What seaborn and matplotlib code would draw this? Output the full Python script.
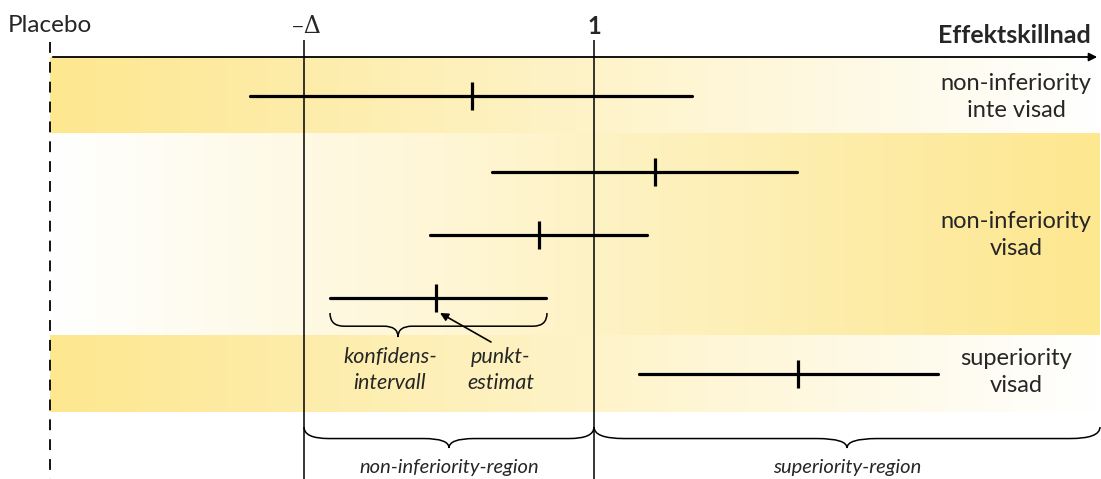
import numpy as np
import pandas as pd
import matplotlib
matplotlib.use('Agg')
import matplotlib.pyplot as plt
import seaborn as sns
from matplotlib.path import Path
from matplotlib.patches import PathPatch
from matplotlib.colors import LinearSegmentedColormap

# Style
sns.set_theme(style='white')
plt.rcParams['font.family'] = ['Lato', 'DejaVu Sans']

# Data (positions on the effect scale, in chart units)
placebo_x = 50
delta_x = 304
one_x = 594
axis_end = 1100

row_y = [96, 172, 235, 298, 374]
ci_low = [250, 492, 430, 330, 639]
ci_high = [692, 797, 647, 546, 938]
point_est = [472, 655, 539, 436, 798]

band_edges = [57, 133, 335, 412]
band_dir = ['left', 'right', 'left']
band_labels = ['non-inferiority\ninte visad', 'non-inferiority\nvisad', 'superiority\nvisad']
band_label_y = [97, 235, 372]

region_labels = ['non-inferiority-region', 'superiority-region']

yellow = '#fde78f'
cmap = LinearSegmentedColormap.from_list('fade', ['#ffffff', yellow])

fig = plt.figure(figsize=(11.01, 4.79), dpi=100)
ax = fig.add_axes([0, 0, 1, 1])
ax.set_xlim(0, 1101)
ax.set_ylim(479, 0)
ax.axis('off')

# Gradient bands
grad = np.linspace(0, 1, 256).reshape(1, -1)
for i, d in enumerate(band_dir):
    g = grad[:, ::-1] if d == 'left' else grad
    ax.imshow(g, cmap=cmap, aspect='auto', vmin=0, vmax=1,
              extent=[placebo_x, axis_end, band_edges[i + 1], band_edges[i]], zorder=0)
    ax.text(1016, band_label_y[i], band_labels[i], ha='center', va='center',
            fontsize=17, linespacing=1.4, zorder=5)

# Axis arrow
ax.annotate('', xy=(axis_end, band_edges[0]), xytext=(placebo_x, band_edges[0]),
            arrowprops=dict(arrowstyle='-|>', color='black', lw=1.3,
                            mutation_scale=12), zorder=4)

# Reference lines
ax.vlines(placebo_x, 42, 479, colors='black', linestyles=(0, (6, 5)), lw=1.3, zorder=3)
ax.vlines([delta_x, one_x], 40, 479, colors='black', lw=1.1, zorder=3)

ax.text(placebo_x, 25, 'Placebo', ha='center', va='center', fontsize=17.5)
ax.text(delta_x + 2, 26, '–Δ', ha='center', va='center', fontsize=17,
        family=['DejaVu Serif'])
ax.text(one_x, 26, '1', ha='center', va='center', fontsize=17, fontweight='bold')
ax.text(1091, 35, 'Effektskillnad', ha='right', va='center', fontsize=18,
        fontweight='bold')

# Confidence intervals
lines = pd.DataFrame({
    'row': np.repeat(np.arange(len(row_y)), 2),
    'x': np.ravel(np.column_stack([ci_low, ci_high])),
    'y': np.repeat(row_y, 2),
})
sns.lineplot(data=lines, x='x', y='y', units='row', estimator=None, sort=False,
             color='black', lw=2.3, legend=False, ax=ax, zorder=4)
sns.scatterplot(x=point_est, y=row_y, marker='|', s=420, linewidth=2.3,
                color='black', ax=ax, zorder=5)
ax.set_xlim(0, 1101)
ax.set_ylim(479, 0)
ax.set_xlabel('')
ax.set_ylabel('')


def brace(x0, x1, xt, y0, h, r, lw=1.1):
    ym = y0 + h * 0.55
    verts = [(x0, y0), (x0, ym), (x0 + r, ym),
             (xt - r, ym),
             (xt, ym), (xt, y0 + h),
             (xt, ym), (xt + r, ym),
             (x1 - r, ym),
             (x1, ym), (x1, y0)]
    codes = [Path.MOVETO, Path.CURVE3, Path.CURVE3,
             Path.LINETO,
             Path.CURVE3, Path.CURVE3,
             Path.CURVE3, Path.CURVE3,
             Path.LINETO,
             Path.CURVE3, Path.CURVE3]
    ax.add_patch(PathPatch(Path(verts, codes), fc='none', ec='black', lw=lw, zorder=4))


# Annotation for the example interval
brace(ci_low[3], ci_high[3] + 1, 398, 313, 24, 14)
ax.text(390, 370, 'konfidens-\nintervall', ha='center', va='center', fontsize=15.5,
        style='italic', linespacing=1.4)
ax.text(501, 370, 'punkt-\nestimat', ha='center', va='center', fontsize=15.5,
        style='italic', linespacing=1.4)
ax.annotate('', xy=(point_est[3] + 4, 313), xytext=(491, 342),
            arrowprops=dict(arrowstyle='-|>', color='black', lw=1.2,
                            mutation_scale=12, shrinkA=0, shrinkB=0))

# Region braces
brace(delta_x, one_x, (delta_x + one_x) / 2, 427, 21, 25)
brace(one_x, axis_end, (one_x + axis_end) / 2, 427, 21, 30)
ax.text((delta_x + one_x) / 2, 467, region_labels[0], ha='center', va='center',
        fontsize=14.5, style='italic')
ax.text((one_x + axis_end) / 2, 467, region_labels[1], ha='center', va='center',
        fontsize=14.5, style='italic')

fig.savefig('out.png', dpi=100)
